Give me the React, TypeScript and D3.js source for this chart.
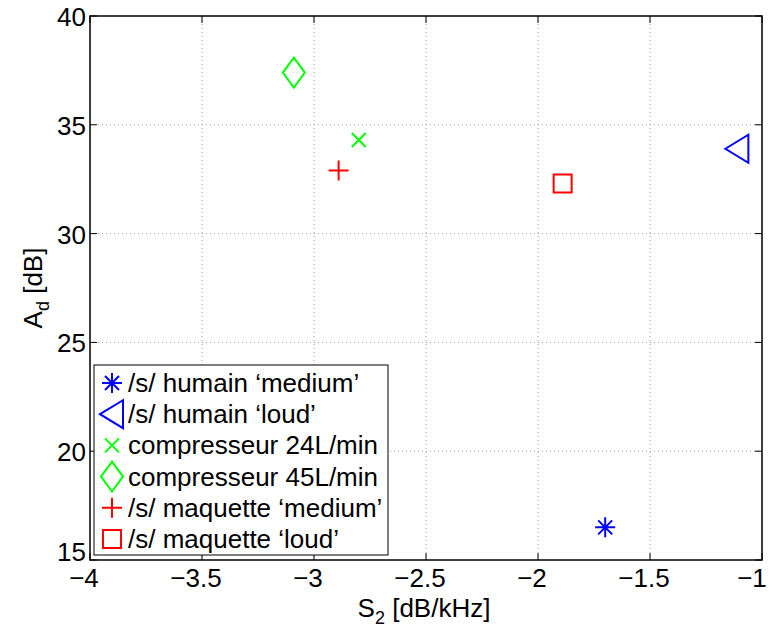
import * as d3 from 'd3';

type Marker = 'star' | 'triLeft' | 'cross' | 'diamond' | 'plus' | 'square';

// series
const labels = [
  "/s/ humain \u2018medium\u2019",
  "/s/ humain \u2018loud\u2019",
  'compresseur 24L/min',
  'compresseur 45L/min',
  "/s/ maquette \u2018medium\u2019",
  "/s/ maquette \u2018loud\u2019",
];
const xValues = [-1.7, -1.11, -2.8, -3.09, -2.89, -1.89];
const yValues = [16.5, 33.9, 34.3, 37.4, 32.9, 32.3];
const colors = ['#0000ff', '#0000ff', '#00ff00', '#00ff00', '#ff0000', '#ff0000'];
const markers: Marker[] = ['star', 'triLeft', 'cross', 'diamond', 'plus', 'square'];

const xTicks = [-4, -3.5, -3, -2.5, -2, -1.5, -1];
const yTicks = [15, 20, 25, 30, 35, 40];

function markerPath(m: Marker): string {
  switch (m) {
    case 'star': {
      const r = 10, d = 7;
      return `M${-r},0H${r}M0,${-r}V${r}M${-d},${-d}L${d},${d}M${-d},${d}L${d},${-d}`;
    }
    case 'triLeft':
      return 'M-12,0L11,-14L11,14Z';
    case 'cross':
      return 'M-7,-7L7,7M-7,7L7,-7';
    case 'diamond':
      return 'M0,-15L11,0L0,15L-11,0Z';
    case 'plus':
      return 'M-10,0H10M0,-10V10';
    case 'square':
      return 'M-9,-9H9V9H-9Z';
  }
}

export default function App() {
  const W = 769, H = 630;
  const left = 90, right = 762, top = 16, bottom = 560;
  const font = 'Liberation Sans, Arial, Helvetica, sans-serif';
  const fs = 26;

  const x = d3.scaleLinear().domain([-4, -1]).range([left, right]);
  const y = d3.scaleLinear().domain([15, 40]).range([bottom, top]);
  const fmt = (v: number) => String(v).replace('-', '\u2212');

  const legX = 94, legY = 365, legW = 294, legH = 190, rowH = 31.2;

  return (
    <svg width={W} height={H} style={{ position: 'absolute', left: 0, top: 0, background: '#fff' }} fontFamily={font}>
      <rect x={0} y={0} width={W} height={H} fill="#fff" />
      {/* grid */}
      {xTicks.slice(1, -1).map((t) => (
        <line key={'gx' + t} x1={x(t)} x2={x(t)} y1={top} y2={bottom} stroke="#a0a0a0" strokeWidth={1} strokeDasharray="1,3" />
      ))}
      {yTicks.slice(1, -1).map((t) => (
        <line key={'gy' + t} x1={left} x2={right} y1={y(t)} y2={y(t)} stroke="#a0a0a0" strokeWidth={1} strokeDasharray="1,3" />
      ))}
      {/* frame */}
      <rect x={left} y={top} width={right - left} height={bottom - top} fill="none" stroke="#000" strokeWidth={1.5} />
      {/* ticks */}
      {xTicks.map((t, i) => (
        <g key={'tx' + t}>
          <line x1={x(t)} x2={x(t)} y1={bottom} y2={bottom - 7} stroke="#000" strokeWidth={1} />
          <line x1={x(t)} x2={x(t)} y1={top} y2={top + 7} stroke="#000" strokeWidth={1} />
          {/* last label nudged in so it stays on the page */}
          <text x={x(t) - (i === xTicks.length - 1 ? 10 : 6)} y={587} textAnchor="middle" fontSize={fs} fill="#000">{fmt(t)}</text>
        </g>
      ))}
      {yTicks.map((t, i) => (
        <g key={'ty' + t}>
          <line x1={left} x2={left + 7} y1={y(t)} y2={y(t)} stroke="#000" strokeWidth={1} />
          <line x1={right} x2={right - 7} y1={y(t)} y2={y(t)} stroke="#000" strokeWidth={1} />
          {/* lowest label sits a bit higher, clear of the x labels */}
          <text x={left - 4} y={y(t) + (i === 0 ? 1 : 10)} textAnchor="end" fontSize={fs} fill="#000">{fmt(t)}</text>
        </g>
      ))}
      {/* axis labels */}
      <text x={424} y={617} textAnchor="middle" fontSize={fs} fill="#000">
        S<tspan fontSize={18} dy={7}>2</tspan><tspan dy={-7}> [dB/kHz]</tspan>
      </text>
      <text transform={`translate(42,${(top + bottom) / 2}) rotate(-90)`} textAnchor="middle" fontSize={fs} fill="#000">
        A<tspan fontSize={18} dy={7}>d</tspan><tspan dy={-7}> [dB]</tspan>
      </text>
      {/* points */}
      {xValues.map((v, i) => (
        <path key={'p' + i} transform={`translate(${x(v)},${y(yValues[i])})`} d={markerPath(markers[i])}
          fill="none" stroke={colors[i]} strokeWidth={2} />
      ))}
      {/* legend */}
      <rect x={legX} y={legY} width={legW} height={legH} fill="#fff" stroke="#000" strokeWidth={1} />
      {labels.map((l, i) => {
        const cy = legY + 18 + i * rowH;
        return (
          <g key={'l' + i}>
            <path transform={`translate(112,${cy})`} d={markerPath(markers[i])} fill="none" stroke={colors[i]} strokeWidth={2} />
            <text x={128} y={cy + 9} fontSize={fs} fill="#000">{l}</text>
          </g>
        );
      })}
    </svg>
  );
}
